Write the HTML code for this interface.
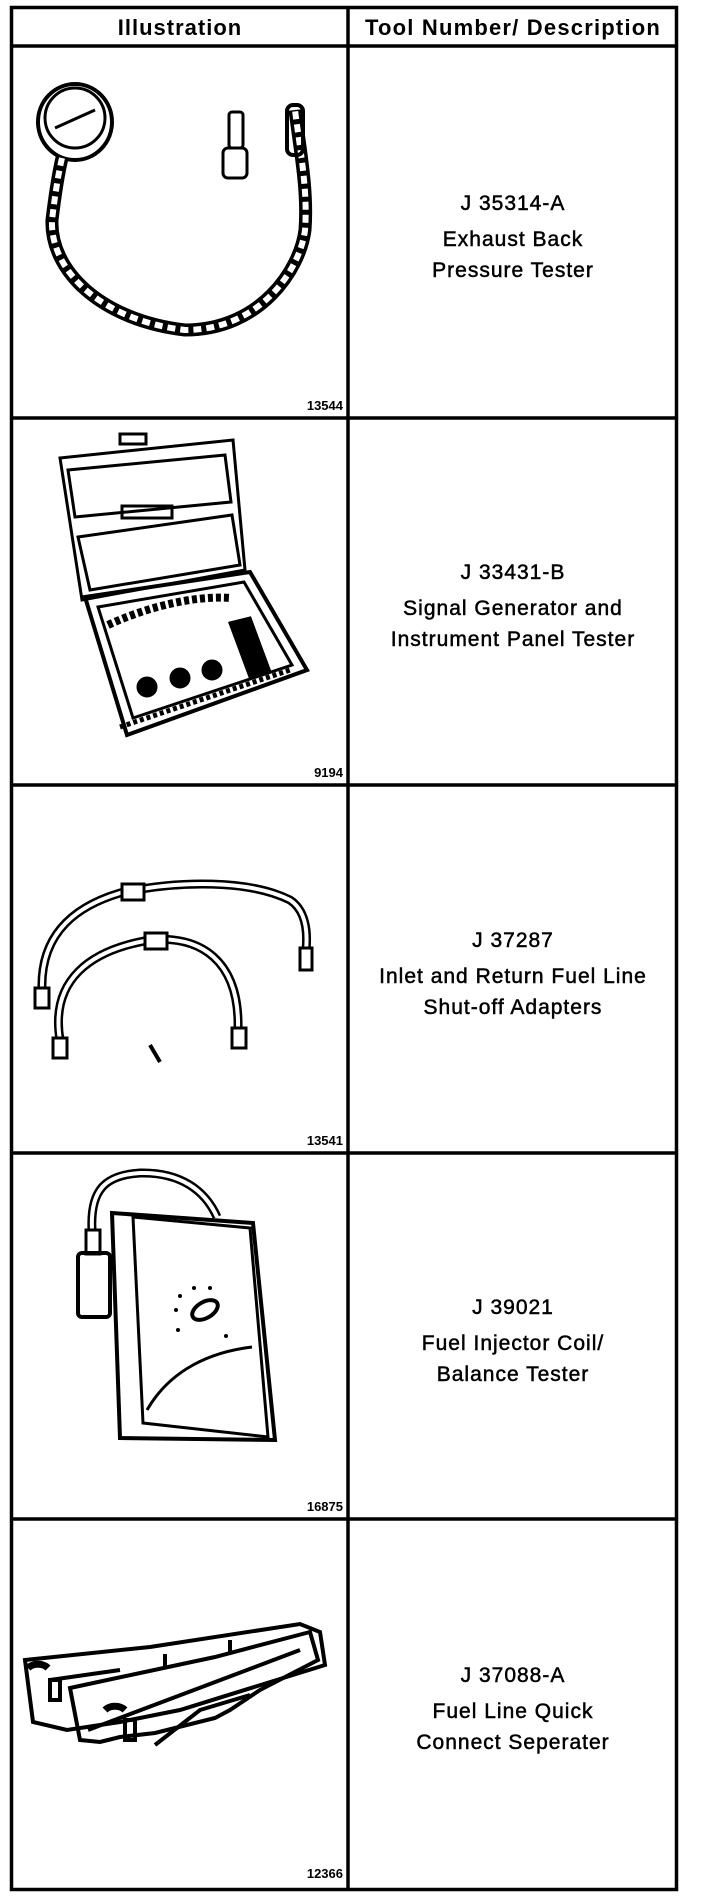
<!DOCTYPE html>
<html><head><meta charset="utf-8"><style>
html,body{margin:0;padding:0;background:#fff;}
svg{display:block;}
.h{font-family:"Liberation Sans",sans-serif;font-weight:bold;font-size:22px;}
.t{font-family:"Liberation Sans",sans-serif;font-size:21px;letter-spacing:1px;stroke:#000;stroke-width:0.5px;}
.n{font-family:"Liberation Sans",sans-serif;font-weight:bold;font-size:13px;}
</style></head><body>
<svg width="704" height="1898" viewBox="0 0 704 1898" xmlns="http://www.w3.org/2000/svg">
<g stroke="#000" stroke-width="3.5" fill="none">
<rect x="11.5" y="7.5" width="665" height="1882"/>
<line x1="348" y1="7" x2="348" y2="1890"/>
<line x1="10" y1="46" x2="678" y2="46"/>
<line x1="10" y1="418" x2="678" y2="418"/>
<line x1="10" y1="785" x2="678" y2="785"/>
<line x1="10" y1="1153" x2="678" y2="1153"/>
<line x1="10" y1="1519" x2="678" y2="1519"/>
</g>
<text class="h" x="180" y="35" text-anchor="middle" letter-spacing="1">Illustration</text>
<text class="h" x="513" y="35" text-anchor="middle" letter-spacing="1.2">Tool Number/ Description</text>

<g class="t" text-anchor="middle">
<text x="513" y="210">J 35314-A</text><text x="513" y="246">Exhaust Back</text><text x="513" y="277">Pressure Tester</text>
<text x="513" y="579">J 33431-B</text><text x="513" y="615">Signal Generator and</text><text x="513" y="646">Instrument Panel Tester</text>
<text x="513" y="947">J 37287</text><text x="513" y="983">Inlet and Return Fuel Line</text><text x="513" y="1014">Shut-off Adapters</text>
<text x="513" y="1314">J 39021</text><text x="513" y="1350">Fuel Injector Coil/</text><text x="513" y="1381">Balance Tester</text>
<text x="513" y="1682">J 37088-A</text><text x="513" y="1718">Fuel Line Quick</text><text x="513" y="1749">Connect Seperater</text>
</g>
<g class="n" text-anchor="end">
<text x="343" y="410">13544</text>
<text x="343" y="777">9194</text>
<text x="343" y="1145">13541</text>
<text x="343" y="1511">16875</text>
<text x="343" y="1878">12366</text>
</g>

<g stroke="#000" fill="none">
<ellipse cx="75" cy="122" rx="37" ry="38" stroke-width="4"/>
<ellipse cx="75" cy="118" rx="30" ry="30" stroke-width="3"/>
<line x1="55" y1="128" x2="95" y2="110" stroke-width="3"/>
<path d="M62 158 C58 175 55 195 52 220 C50 270 100 320 185 330 C260 330 300 270 305 230 C308 190 300 150 295 110" stroke-width="13"/>
<path d="M62 158 C58 175 55 195 52 220 C50 270 100 320 185 330 C260 330 300 270 305 230 C308 190 300 150 295 110" stroke="#fff" stroke-width="6" stroke-dasharray="8 5"/>
<rect x="223" y="148" width="24" height="30" rx="5" stroke-width="3"/>
<rect x="229" y="112" width="14" height="36" rx="3" stroke-width="3"/>
<rect x="287" y="105" width="16" height="50" rx="6" stroke-width="4"/>
</g>

<g stroke="#000" fill="none" stroke-width="3">
<polygon points="60,458 233,440 245,570 82,600"/>
<polygon points="68,470 225,455 231,502 75,517"/>
<polygon points="78,537 232,515 240,565 90,590"/>
<rect x="120" y="434" width="26" height="10"/>
<rect x="122" y="506" width="50" height="12"/>
<polygon points="85,597 250,572 307,670 127,735" stroke-width="4"/>
<polygon points="98,607 244,582 292,665 133,718"/>
<path d="M108 625 C140 610 190 595 230 598" stroke-width="8" stroke-dasharray="5 3"/>
<circle cx="147" cy="687" r="9" fill="#000"/>
<circle cx="180" cy="678" r="9" fill="#000"/>
<circle cx="212" cy="670" r="9" fill="#000"/>
<polygon points="230,623 250,618 270,672 250,677" fill="#000"/>
<path d="M120 727 L290 670" stroke-width="5" stroke-dasharray="4 3"/>
</g>

<g stroke="#000" fill="none">
<path d="M42 990 C40 930 80 905 120 893 C180 880 250 880 290 900 C305 910 308 930 306 950" stroke-width="9"/>
<path d="M42 990 C40 930 80 905 120 893 C180 880 250 880 290 900 C305 910 308 930 306 950" stroke="#fff" stroke-width="4"/>
<path d="M60 1040 C50 980 90 950 150 940 C200 935 240 960 238 1030" stroke-width="9"/>
<path d="M60 1040 C50 980 90 950 150 940 C200 935 240 960 238 1030" stroke="#fff" stroke-width="4"/>
<rect x="122" y="884" width="22" height="16" stroke-width="3" fill="#fff"/>
<rect x="145" y="933" width="22" height="16" stroke-width="3" fill="#fff"/>
<rect x="300" y="948" width="12" height="22" stroke-width="3" fill="#fff"/>
<rect x="35" y="988" width="14" height="20" stroke-width="3" fill="#fff"/>
<rect x="53" y="1038" width="14" height="20" stroke-width="3" fill="#fff"/>
<rect x="232" y="1028" width="14" height="20" stroke-width="3" fill="#fff"/>
<line x1="150" y1="1045" x2="160" y2="1062" stroke-width="4"/>
</g>

<g stroke="#000" fill="none" stroke-width="3">
<path d="M92 1230 C90 1190 105 1175 140 1173 C180 1172 205 1190 217 1217" stroke-width="9"/>
<path d="M92 1230 C90 1190 105 1175 140 1173 C180 1172 205 1190 217 1217" stroke="#fff" stroke-width="4"/>
<rect x="86" y="1230" width="14" height="24"/>
<rect x="78" y="1253" width="32" height="64" rx="4" stroke-width="4"/>
<polygon points="112,1213 253,1223 275,1440 120,1438" stroke-width="4"/>
<polygon points="133,1217 250,1228 268,1437 143,1423"/>
<path d="M147 1410 C170 1370 210 1352 252 1347"/>
<ellipse cx="205" cy="1310" rx="14" ry="8" stroke-width="4" transform="rotate(-30 205 1310)"/>
<g fill="#000" stroke="none"><circle cx="180" cy="1296" r="2"/><circle cx="194" cy="1288" r="2"/><circle cx="210" cy="1288" r="2"/><circle cx="176" cy="1310" r="2"/><circle cx="178" cy="1330" r="2"/><circle cx="226" cy="1336" r="2"/></g>
</g>

<g stroke="#000" fill="none" stroke-width="4">
<polygon points="25,1660 150,1647 300,1624 320,1632 325,1665 180,1710 120,1722 67,1730 33,1722"/>
<polygon points="70,1688 215,1657 310,1632 318,1660 260,1690 230,1710 215,1718 155,1733 120,1737 108,1740 100,1742 80,1740"/>
<path d="M50 1680 L120 1670" />
<path d="M88 1730 L300 1650" />
<path d="M155 1745 L200 1710 L250 1695" />
<path d="M28 1668 c5 -5 15 -5 20 0" stroke-width="7"/>
<path d="M105 1710 c5 -5 15 -5 20 0" stroke-width="7"/>
<rect x="50" y="1680" width="10" height="20"/>
<rect x="125" y="1720" width="10" height="20"/>
<path d="M165 1654 l0 12 M230 1640 l0 12"/>
</g>
</svg>
</body></html>
